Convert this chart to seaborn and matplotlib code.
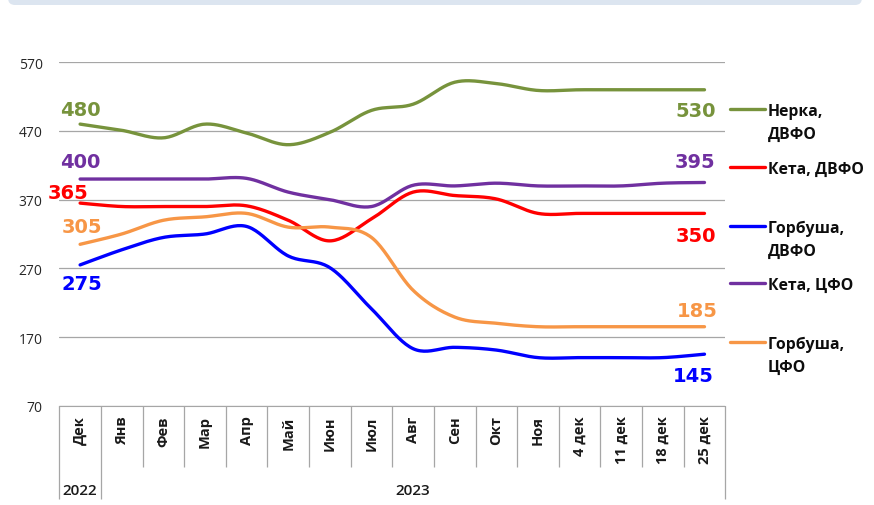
import numpy as np
import matplotlib.pyplot as plt
import seaborn as sns
from matplotlib.patches import FancyBboxPatch
from matplotlib.lines import Line2D

# значения
months = ['Дек', 'Янв', 'Фев', 'Мар', 'Апр', 'Май', 'Июн', 'Июл', 'Авг', 'Сен', 'Окт', 'Ноя',
          '4 дек', '11 дек', '18 дек', '25 дек']
years = ['2022', '2023']
year_span = [1, 15]  # сколько категорий в каждом году

nerka_dvfo = [480, 471, 460, 480, 467, 450, 468, 500, 509, 541, 539, 529, 530, 530, 530, 530]
keta_dvfo = [365, 360, 360, 360, 361, 340, 310, 342, 381, 376, 371, 350, 350, 350, 350, 350]
gorbusha_dvfo = [275, 297, 315, 320, 331, 288, 271, 211, 153, 155, 151, 140, 140, 140, 140, 145]
keta_cfo = [400, 400, 400, 400, 401, 381, 370, 360, 391, 390, 394, 390, 390, 390, 394, 395]
gorbusha_cfo = [305, 320, 340, 345, 350, 330, 330, 315, 238, 199, 190, 185, 185, 185, 185, 185]

series_names = ['Нерка,\nДВФО', 'Кета, ДВФО', 'Горбуша,\nДВФО', 'Кета, ЦФО', 'Горбуша,\nЦФО']
series_values = [nerka_dvfo, keta_dvfo, gorbusha_dvfo, keta_cfo, gorbusha_cfo]
colors = ['#77933C', '#FF0000', '#0000FF', '#7030A0', '#F79646']

# смещения подписей (пиксели) для первой и последней точки
start_off = [(0, 16), (-12, 12), (2, -17), (0, 19), (2, 19)]
end_off = [(-9, -19), (-9, -21), (-11, -20), (-9, 23), (-7, 18)]

W, H = 874, 506
sns.set_style('white')
plt.rcParams['font.family'] = ['Open Sans', 'DejaVu Sans']

fig = plt.figure(figsize=(W / 100, H / 100), dpi=100)
ax = fig.add_axes([59.3 / W, 1 - 406.7 / H, 666 / W, 343.4 / H])


def smooth(vals, n=24):
    # сглаживание как в Excel (кривые Безье)
    p = np.array(vals, dtype=float)
    x = np.arange(len(p), dtype=float)
    pts = np.column_stack([x, p])
    ext = np.vstack([pts[0], pts, pts[-1]])
    out = []
    t = np.linspace(0, 1, n)[:, None]
    for i in range(len(pts) - 1):
        p0, p1, p2, p3 = ext[i], ext[i + 1], ext[i + 2], ext[i + 3]
        c1 = p1 + (p2 - p0) / 6
        c2 = p2 - (p3 - p1) / 6
        seg = ((1 - t) ** 3) * p1 + 3 * ((1 - t) ** 2) * t * c1 + 3 * (1 - t) * t ** 2 * c2 + t ** 3 * p2
        out.append(seg if i == 0 else seg[1:])
    seg = np.vstack(out)
    return seg[:, 0], seg[:, 1]


for vals, col in zip(series_values, colors):
    sx, sy = smooth(vals)
    sns.lineplot(x=sx, y=sy, color=col, linewidth=2.4, sort=False, estimator=None, ax=ax)

# подписи значений
cap = 14 / 72 * 100 * 0.73 / 2
for vals, col, so, eo in zip(series_values, colors, start_off, end_off):
    for idx, off in [(0, so), (len(vals) - 1, eo)]:
        ax.annotate(str(vals[idx]), xy=(idx, vals[idx]), xytext=(off[0], off[1] - cap),
                    textcoords='offset pixels', ha='center', va='baseline', color=col,
                    fontsize=14, fontweight='heavy', family='DejaVu Sans', annotation_clip=False)

ax.set_xlim(-0.5, len(months) - 0.5)
ax.set_ylim(70, 570)
ax.set_yticks(np.arange(70, 571, 100))
ax.yaxis.grid(True, color='#A6A6A6', linewidth=0.9)
ax.xaxis.grid(False)
for s in ['left', 'right', 'top']:
    ax.spines[s].set_visible(False)
ax.spines['bottom'].set_color('#A6A6A6')
ax.tick_params(axis='y', length=0, pad=12, labelsize=10, labelcolor='#262626')
ax.set_xticks(range(len(months)))
ax.set_xticklabels(months, rotation=90, fontsize=10.5, fontweight='bold', color='#1A1A1A')
ax.tick_params(axis='x', length=0, pad=7)
ax.set_xlabel('')
ax.set_ylabel('')

# разделители категорий и годы
trans = ax.get_xaxis_transform()
bounds = np.cumsum([0] + year_span) - 0.5
inner = [b for b in np.arange(-0.5, len(months)) if b not in bounds]
ax.vlines(inner, -61 / 343.4, 0, transform=trans, colors='#A6A6A6', linewidth=0.9, clip_on=False)
ax.vlines(bounds, -93.3 / 343.4, 0, transform=trans, colors='#A6A6A6', linewidth=0.9, clip_on=False)
for yr, a, b in zip(years, bounds[:-1], bounds[1:]):
    ax.text((a + b) / 2, -84 / 343.4, yr, transform=trans, ha='center', va='center',
            fontsize=11, fontweight='semibold', color='#1A1A1A')

# легенда справа (маркер выровнен по первой строке)
leg_y = [110, 168, 227, 284, 343]
for name, col, y in zip(series_names, colors, leg_y):
    fig.add_artist(Line2D([730 / W, 765 / W], [1 - y / H, 1 - y / H], color=col, linewidth=2.4,
                          transform=fig.transFigure))
    for k, line in enumerate(name.split('\n')):
        yy = y + k * 23 + 5.8
        fig.text(768 / W, 1 - yy / H, line, ha='left', va='baseline', fontsize=11.3,
                 fontweight='bold', color='#0D0D0D')

# светлая полоса сверху
fig.add_artist(FancyBboxPatch((0.08, H / 100 - 0.06), 8.54, 0.3,
                              boxstyle='round,pad=0,rounding_size=0.07',
                              transform=fig.dpi_scale_trans, facecolor='#DCE5F0',
                              edgecolor='none'))

fig.savefig('out.png', dpi=100)
